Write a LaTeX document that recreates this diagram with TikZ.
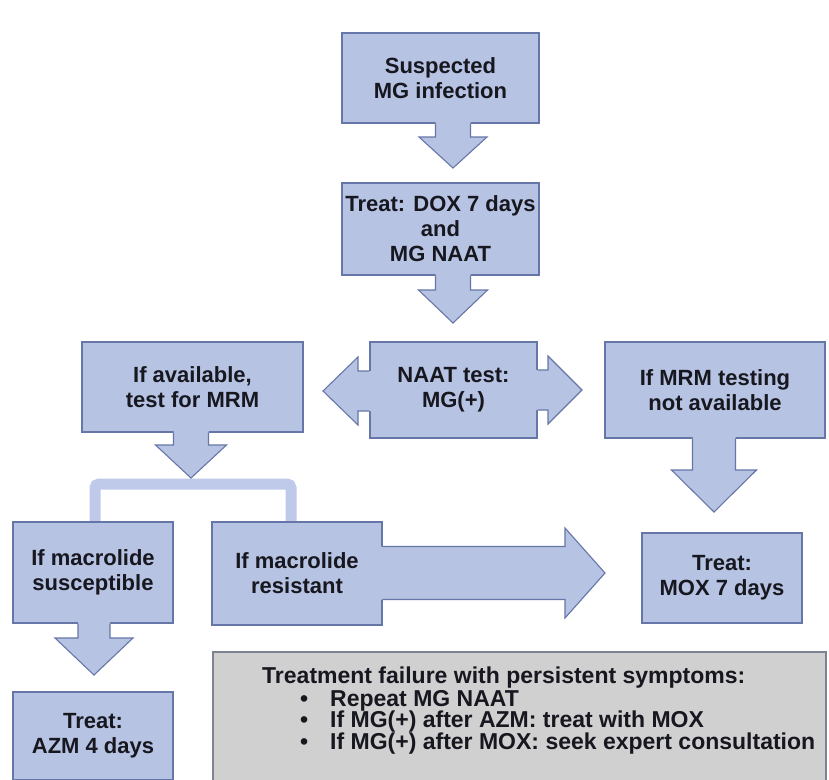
\documentclass[tikz,border=0pt]{standalone}
\usepackage{fontspec}
\setmainfont{Liberation Sans}
\usetikzlibrary{calc}
\definecolor{boxfill}{HTML}{B7C3E3}
\definecolor{boxline}{HTML}{6676A8}
\definecolor{brkcol}{HTML}{BFCAEA}
\definecolor{greyfill}{HTML}{D0D0D0}
\definecolor{greyline}{HTML}{7E8391}
\definecolor{ink}{HTML}{17171F}

% block arrow pointing down: #1 start anchor, #2 tip, #3 shaft half width, #4 head half width, #5 head length
\newcommand{\blkdown}[5]{%
  \fill[boxfill] let \p1=(#1), \p2=(#2) in
    (\x2-#3pt,\y1+1.5pt) -- (\x2-#3pt,\y2+#5pt) -- (\x2-#4pt,\y2+#5pt) -- (\x2,\y2)
    -- (\x2+#4pt,\y2+#5pt) -- (\x2+#3pt,\y2+#5pt) -- (\x2+#3pt,\y1+1.5pt) -- cycle;
  \draw[arrowline] let \p1=(#1), \p2=(#2) in
    (\x2-#3pt,\y1) -- (\x2-#3pt,\y2+#5pt) -- (\x2-#4pt,\y2+#5pt) -- (\x2,\y2)
    -- (\x2+#4pt,\y2+#5pt) -- (\x2+#3pt,\y2+#5pt) -- (\x2+#3pt,\y1);
}
% block arrow pointing right
\newcommand{\blkright}[5]{%
  \fill[boxfill] let \p1=(#1), \p2=(#2) in
    (\x1-1.5pt,\y2+#3pt) -- (\x2-#5pt,\y2+#3pt) -- (\x2-#5pt,\y2+#4pt) -- (\x2,\y2)
    -- (\x2-#5pt,\y2-#4pt) -- (\x2-#5pt,\y2-#3pt) -- (\x1-1.5pt,\y2-#3pt) -- cycle;
  \draw[arrowline] let \p1=(#1), \p2=(#2) in
    (\x1,\y2+#3pt) -- (\x2-#5pt,\y2+#3pt) -- (\x2-#5pt,\y2+#4pt) -- (\x2,\y2)
    -- (\x2-#5pt,\y2-#4pt) -- (\x2-#5pt,\y2-#3pt) -- (\x1,\y2-#3pt);
}
% block arrow pointing left
\newcommand{\blkleft}[5]{%
  \fill[boxfill] let \p1=(#1), \p2=(#2) in
    (\x1+1.5pt,\y2+#3pt) -- (\x2+#5pt,\y2+#3pt) -- (\x2+#5pt,\y2+#4pt) -- (\x2,\y2)
    -- (\x2+#5pt,\y2-#4pt) -- (\x2+#5pt,\y2-#3pt) -- (\x1+1.5pt,\y2-#3pt) -- cycle;
  \draw[arrowline] let \p1=(#1), \p2=(#2) in
    (\x1,\y2+#3pt) -- (\x2+#5pt,\y2+#3pt) -- (\x2+#5pt,\y2+#4pt) -- (\x2,\y2)
    -- (\x2+#5pt,\y2-#4pt) -- (\x2+#5pt,\y2-#3pt) -- (\x1,\y2-#3pt);
}

\tikzset{
  flowbox/.style={draw=boxline, fill=boxfill, line width=1.1pt, text=ink,
    font=\bfseries\fontsize{22}{25}\selectfont, align=center, inner sep=0pt},
  boxsize/.style 2 args={minimum width=#1pt, minimum height=#2pt},
  arrowline/.style={draw=boxline, line width=1.1pt, line join=miter},
  bracketline/.style={draw=brkcol, line width=11pt, rounded corners=4pt},
  greybox/.style={draw=greyline, fill=greyfill, line width=1.2pt, inner sep=0pt},
  greytext/.style={text=ink, font=\bfseries\fontsize{23}{23}\selectfont, inner sep=0pt, anchor=base west},
}

\begin{document}
\begin{tikzpicture}[x=1pt, y=-1pt]
\clip (0,0) rectangle (829,779);
\fill[white] (0,0) rectangle (829,779);

% named tips
\coordinate (t1) at (453,168);
\coordinate (t2) at (453,323);
\coordinate (tL) at (323,391);
\coordinate (tR) at (582,390);
\coordinate (t3) at (191,478);
\coordinate (t4) at (714,512);
\coordinate (t5) at (94,675);
\coordinate (t6) at (605,573);
\coordinate (brkc) at (191,484);

% boxes
\node[flowbox, boxsize={197}{90}] (b1) at (440.5,78) {\raisebox{-4pt}{\shortstack{Suspected\\[1pt]MG infection}}};
\node[flowbox, boxsize={197}{92}] (b2) at (440.5,229) {Treat: DOX 7 days\\and\\MG NAAT};
\node[flowbox, boxsize={167}{96}] (naat) at (453.5,390) {NAAT test:\\MG(+)};
\node[flowbox, boxsize={221}{90}] (avail) at (192.5,387) {If available,\\test for MRM};
\node[flowbox, boxsize={220}{96}] (mrm) at (715,390) {If MRM testing\\not available};

% bracket below "If available"
\coordinate (susctop) at (95,522);
\coordinate (restop) at (291,522);
\draw[bracketline] (susctop) |- (brkc) -| (restop);

\node[flowbox, boxsize={160}{101}] (susc) at (93,572.5) {If macrolide\\susceptible};
\node[flowbox, boxsize={170}{103}] (resist) at (297,573.5) {If macrolide\\resistant};
\node[flowbox, boxsize={160}{90}] (mox) at (722,578) {Treat:\\MOX 7 days};
\node[flowbox, boxsize={160}{88}] (azm) at (93,736) {Treat:\\AZM 4 days};

% arrows
\blkdown{b1.south}{t1}{17.5}{34}{31}
\blkdown{b2.south}{t2}{17.5}{34.5}{33}
\blkleft{naat.west}{tL}{20}{34}{35}
\blkright{naat.east}{tR}{20}{34}{34}
\blkdown{avail.south}{t3}{17.5}{35.5}{33}
\blkdown{mrm.south}{t4}{21.5}{42.5}{42}
\blkdown{susc.south}{t5}{16}{39}{37}
\blkright{resist.east}{t6}{26.5}{45}{40}

% grey box
\node[greybox, minimum width=613pt, minimum height=148pt] (grey) at (519.5,726) {};
\node[greytext] (g0) at (262,683) {Treatment failure with persistent symptoms:};
\node[greytext] (g1) at (300,706) {\makebox[30pt][l]{\textbullet}Repeat MG NAAT};
\node[greytext] (g2) at (300,727) {\makebox[30pt][l]{\textbullet}If MG(+) after AZM: treat with MOX};
\node[greytext] (g3) at (300,749) {\makebox[30pt][l]{\textbullet}If MG(+) after MOX: seek expert consultation};
\end{tikzpicture}
\end{document}
